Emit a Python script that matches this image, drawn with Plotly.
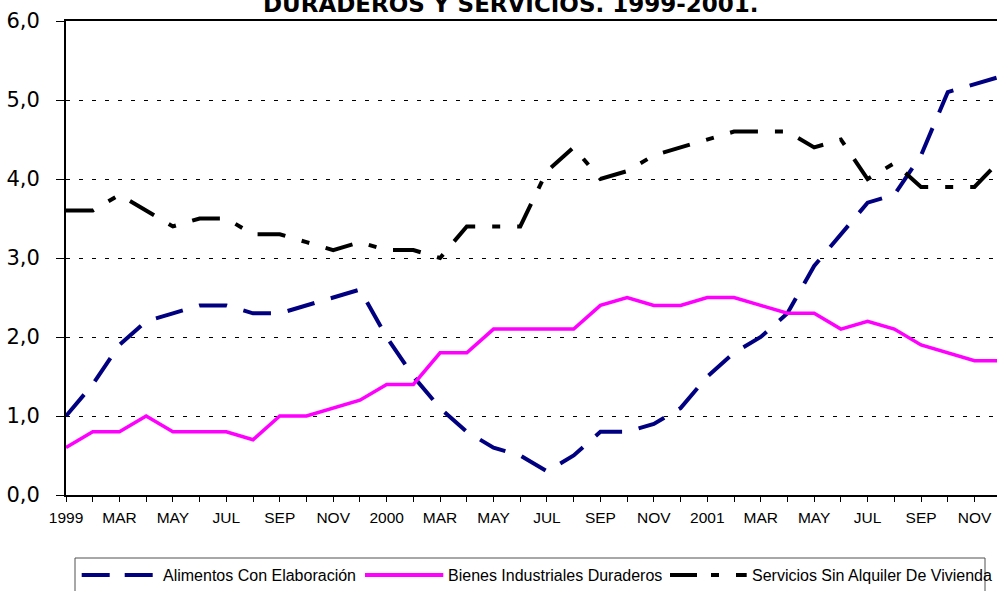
import plotly.graph_objects as go

# ---------------- data ----------------
months = list(range(36))  # Jan 1999 .. Dec 2001
tick_labels = ["1999", "", "MAR", "", "MAY", "", "JUL", "", "SEP", "", "NOV", "",
               "2000", "", "MAR", "", "MAY", "", "JUL", "", "SEP", "", "NOV", "",
               "2001", "", "MAR", "", "MAY", "", "JUL", "", "SEP", "", "NOV", ""]

alimentos = [1.0, 1.4, 1.9, 2.2, 2.3, 2.4, 2.4, 2.3, 2.3, 2.4, 2.5, 2.6,
             2.0, 1.5, 1.1, 0.8, 0.6, 0.5, 0.3, 0.5, 0.8, 0.8, 0.9, 1.1,
             1.5, 1.8, 2.0, 2.3, 2.9, 3.3, 3.7, 3.8, 4.3, 5.1, 5.2, 5.3]

bienes = [0.6, 0.8, 0.8, 1.0, 0.8, 0.8, 0.8, 0.7, 1.0, 1.0, 1.1, 1.2,
          1.4, 1.4, 1.8, 1.8, 2.1, 2.1, 2.1, 2.1, 2.4, 2.5, 2.4, 2.4,
          2.5, 2.5, 2.4, 2.3, 2.3, 2.1, 2.2, 2.1, 1.9, 1.8, 1.7, 1.7]

servicios = [3.6, 3.6, 3.8, 3.6, 3.4, 3.5, 3.5, 3.3, 3.3, 3.2, 3.1, 3.2,
             3.1, 3.1, 3.0, 3.4, 3.4, 3.4, 4.1, 4.4, 4.0, 4.1, 4.3, 4.4,
             4.5, 4.6, 4.6, 4.6, 4.4, 4.5, 4.0, 4.2, 3.9, 3.9, 3.9, 4.25]

series_names = ["Alimentos Con Elaboración", "Bienes Industriales Duraderos",
                "Servicios Sin Alquiler De Vivienda"]
title_text = "DURADEROS Y SERVICIOS. 1999-2001."

# ---------------- layout helpers ----------------
W, H = 997, 591
L, R, T, B = 66, 0, 21, 96
PW, PH = W - L - R, H - T - B
MONTH_PX = 26.72


def px_x(px):
    return (px - L) / PW


def px_y(py):
    return (H - B - py) / PH


colors = ["#000080", "#FF00FF", "#000000"]
dashes = ["28px,17px", "solid", "28px,17px,8px,17px"]
widths = [4, 3.5, 4]
data = [alimentos, bienes, servicios]

fig = go.Figure()
for name, vals, c, d, w in zip(series_names, data, colors, dashes, widths):
    fig.add_trace(go.Scatter(x=months, y=vals, mode="lines", name=name,
                             line=dict(color=c, dash=d, width=w),
                             showlegend=False, hoverinfo="skip"))

# manual legend
legend_y = px_y(575)
shapes = [dict(type="rect", xref="paper", yref="paper",
               x0=px_x(75), x1=px_x(985), y0=px_y(625), y1=px_y(558),
               line=dict(color="#505050", width=1), fillcolor="rgba(0,0,0,0)")]
legend_samples = [(81.7, 153.3, "28px,15px"), (365, 443.3, "solid"),
                  (670, 746.7, "27px,14px,8px,17px")]
legend_text_x = [161.7, 447.3, 750.7]
annotations = []
for (x0, x1, d), c, w, name, tx in zip(legend_samples, colors, widths, series_names, legend_text_x):
    shapes.append(dict(type="line", xref="paper", yref="paper",
                       x0=px_x(x0), x1=px_x(x1), y0=legend_y, y1=legend_y,
                       line=dict(color=c, width=4, dash=d)))
    annotations.append(dict(text=name, xref="paper", yref="paper",
                            x=px_x(tx), y=legend_y, xanchor="left", yanchor="middle",
                            showarrow=False, borderpad=0,
                            font=dict(family="Liberation Sans, Arial", size=16, color="black")))

annotations.append(dict(text="<b>" + title_text + "</b>", xref="paper", yref="paper",
                        x=px_x(510.5), y=px_y(17.5), xanchor="center", yanchor="bottom",
                        showarrow=False, borderpad=0,
                        font=dict(family="DejaVu Sans", size=23, color="black")))

fig.update_layout(
    width=W, height=H,
    margin=dict(l=L, r=R, t=T, b=B, pad=0, autoexpand=False),
    paper_bgcolor="white", plot_bgcolor="white",
    separators=",.",
    hovermode=False,
    shapes=shapes, annotations=annotations,
    xaxis=dict(range=[0, PW / MONTH_PX], tickmode="array", tickvals=months,
               ticktext=tick_labels, ticks="outside", ticklen=5, tickwidth=1,
               tickcolor="black", showline=True, linecolor="black", linewidth=2,
               mirror=True, showgrid=False, zeroline=False, automargin=False,
               tickfont=dict(family="Liberation Sans, Arial", size=15.5, color="black"),
               ticklabelstandoff=2),
    yaxis=dict(range=[0, 6], tickmode="array", tickvals=[0, 1, 2, 3, 4, 5, 6],
               tickformat=".1f", ticks="outside", ticklen=8, tickwidth=1,
               tickcolor="black", showline=True, linecolor="black", linewidth=2,
               showgrid=True, gridcolor="black", gridwidth=1, griddash="4px,9px",
               zeroline=False, automargin=False,
               tickfont=dict(family="DejaVu Sans", size=21, color="black"),
               ticklabelstandoff=12),
)

fig.write_html("out.html", config={"displayModeBar": False, "staticPlot": True},
               post_script="document.body.style.margin='0';document.body.style.overflow='hidden';")
